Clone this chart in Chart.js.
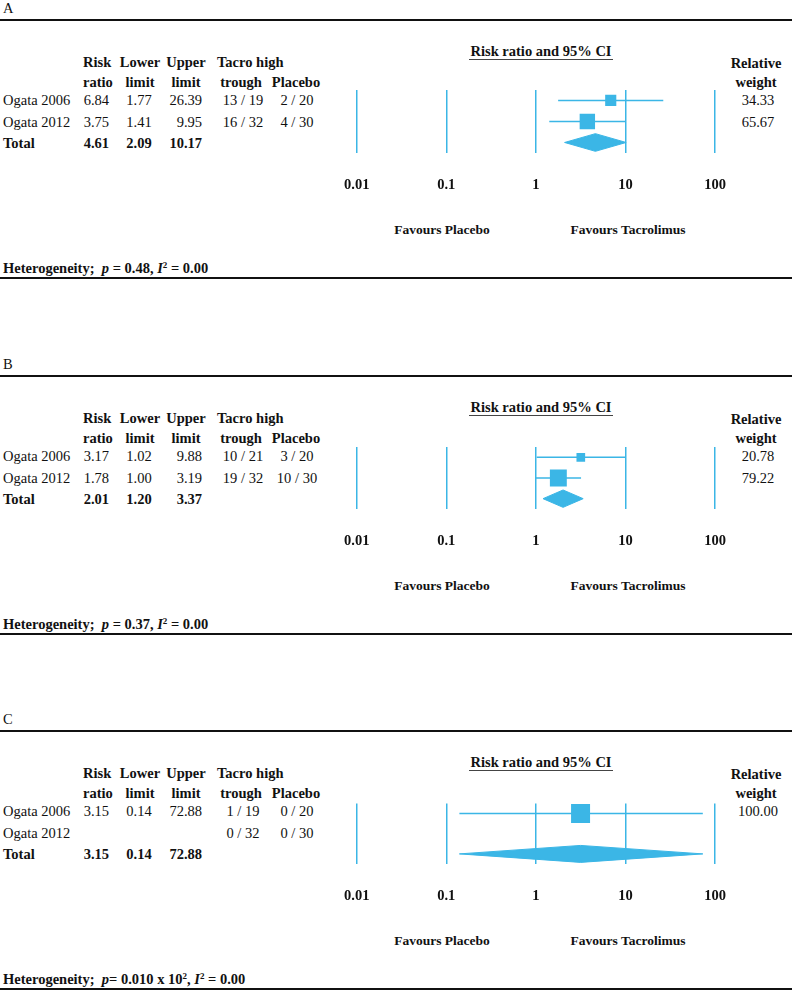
<!DOCTYPE html>
<html>
<head>
<meta charset="utf-8">
<script src="https://cdn.jsdelivr.net/npm/chart.js@4.4.0/dist/chart.umd.min.js"></script>
<style>
  body { margin: 0; background: #fff; }
  #page { position: relative; width: 792px; height: 990px; overflow: hidden;
          font-family: "Liberation Serif", "DejaVu Serif", serif; font-size: 14.5px; color: #111; }
  .t { position: absolute; white-space: nowrap; line-height: 16px; }
  .b { font-weight: bold; }
  .rule { position: absolute; left: 0; width: 792px; height: 2px; background: #111; }
  .uline { position: absolute; height: 1px; background: #444; }
  sup { font-size: 9px; line-height: 0; vertical-align: 5px; }
  canvas { position: absolute; }
</style>
</head>
<body>
<div id="page"></div>
<script>
// ---- data ----
const panelNames = ['A', 'B', 'C'];
const studyNames = ['Ogata 2006', 'Ogata 2012', 'Total'];
const riskRatio  = [[6.84, 3.75], [3.17, 1.78], [3.15, null]];
const lowerLimit = [[1.77, 1.41], [1.02, 1.00], [0.14, null]];
const upperLimit = [[26.39, 9.95], [9.88, 3.19], [72.88, null]];
const tacroHigh  = [['13 / 19', '16 / 32'], ['10 / 21', '19 / 32'], ['1 / 19', '0 / 32']];
const placebo    = [['2 / 20', '4 / 30'], ['3 / 20', '10 / 30'], ['0 / 20', '0 / 30']];
const relWeight  = [[34.33, 65.67], [20.78, 79.22], [100.00, null]];
const totalRR    = [4.61, 2.01, 3.15];
const totalLower = [2.09, 1.20, 0.14];
const totalUpper = [10.17, 3.37, 72.88];
const heteroText = [
  'Heterogeneity;&nbsp; <i>p</i> = 0.48, <i>I</i><sup>2</sup> = 0.00',
  'Heterogeneity;&nbsp; <i>p</i> = 0.37, <i>I</i><sup>2</sup> = 0.00',
  'Heterogeneity;&nbsp; <i>p</i>= 0.010 x 10<sup>2</sup>, <i>I</i><sup>2</sup> = 0.00'
];
const xTicks      = [0.01, 0.1, 1, 10, 100];
const xTickLabels = ['0.01', '0.1', '1', '10', '100'];

// ---- layout ----
const BLUE = '#3bb6e6';
const FONT = '"Liberation Serif", "DejaVu Serif", serif';
const panelTop = [20, 376, 731];
const page = document.getElementById('page');

function txt(html, x, y, align, cls) {
  const d = document.createElement('div');
  d.className = 't' + (cls ? ' ' + cls : '');
  d.innerHTML = html;
  d.style.left = x + 'px';
  d.style.top = (y - 8) + 'px';
  if (align === 'center') d.style.transform = 'translateX(-50%)';
  if (align === 'right') d.style.transform = 'translateX(-100%)';
  page.appendChild(d);
  return d;
}

function box(cls, x, y, w) {
  const d = document.createElement('div');
  d.className = cls;
  d.style.top = y + 'px';
  if (x != null) { d.style.left = x + 'px'; d.style.width = w + 'px'; }
  page.appendChild(d);
}

const fmt = v => v == null ? '' : v.toFixed(2);

function drawTable(p, T) {
  txt(panelNames[p], 3, T - 12, 'left');
  box('rule', null, T - 1);
  box('rule', null, T + 257);

  // column headers
  txt('Risk', 83, T + 42, 'left', 'b');
  txt('ratio', 83, T + 62, 'left', 'b');
  txt('Lower', 140, T + 42, 'center', 'b');
  txt('limit', 140, T + 62, 'center', 'b');
  txt('Upper', 186, T + 42, 'center', 'b');
  txt('limit', 186, T + 62, 'center', 'b');
  txt('Tacro high', 217, T + 42, 'left', 'b');
  txt('trough', 241, T + 62, 'center', 'b');
  txt('Placebo', 296, T + 62, 'center', 'b');
  txt('Relative', 756, T + 43, 'center', 'b');
  txt('weight', 756, T + 62, 'center', 'b');
  txt('Risk ratio and 95% CI', 541, T + 31, 'center', 'b');
  box('uline', 469, T + 39, 144);

  const rowY = [T + 80, T + 101.5, T + 123];
  for (let i = 0; i < 2; i++) {
    txt(studyNames[i], 3, rowY[i], 'left');
    txt(fmt(riskRatio[p][i]), 109, rowY[i], 'right');
    txt(fmt(lowerLimit[p][i]), 139, rowY[i], 'center');
    txt(fmt(upperLimit[p][i]), 202, rowY[i], 'right');
    txt(tacroHigh[p][i], 243, rowY[i], 'center');
    txt(placebo[p][i], 297, rowY[i], 'center');
    txt(fmt(relWeight[p][i]), 758, rowY[i], 'center');
  }
  txt(studyNames[2], 3, rowY[2], 'left', 'b');
  txt(fmt(totalRR[p]), 109, rowY[2], 'right', 'b');
  txt(fmt(totalLower[p]), 139, rowY[2], 'center', 'b');
  txt(fmt(totalUpper[p]), 202, rowY[2], 'right', 'b');

  const f1 = txt('Favours Placebo', 442, T + 210, 'center', 'b');
  const f2 = txt('Favours Tacrolimus', 628, T + 210, 'center', 'b');
  f1.style.fontSize = f2.style.fontSize = '13.5px';
  txt(heteroText[p], 3, T + 248, 'left', 'b');
}

function drawPlot(p, T) {
  const cv = document.createElement('canvas');
  cv.width = 430; cv.height = 124;
  cv.style.left = '320px';
  cv.style.top = (T + 59) + 'px';
  page.appendChild(cv);

  const squares = [], sizes = [], datasets = [];
  riskRatio[p].forEach((v, i) => {
    if (v == null) return;
    squares.push({ x: v, y: i });
    sizes.push(1.9 * Math.sqrt(relWeight[p][i]) / Math.SQRT2);
  });
  datasets.push({
    type: 'scatter', data: squares, pointStyle: 'rect', pointRadius: sizes,
    backgroundColor: BLUE, borderColor: BLUE, borderWidth: 0
  });
  riskRatio[p].forEach((v, i) => {
    if (v == null) return;
    datasets.push({
      type: 'line', data: [{ x: lowerLimit[p][i], y: i }, { x: upperLimit[p][i], y: i }],
      borderColor: BLUE, borderWidth: 1.5, pointRadius: 0, fill: false
    });
  });
  const h = 0.42;
  datasets.push({
    type: 'line',
    data: [
      { x: totalLower[p], y: 2 }, { x: totalRR[p], y: 2 - h },
      { x: totalUpper[p], y: 2 }, { x: totalRR[p], y: 2 + h },
      { x: totalLower[p], y: 2 }
    ],
    borderColor: BLUE, borderWidth: 1, backgroundColor: BLUE,
    pointRadius: 0, fill: 'shape', tension: 0
  });

  new Chart(cv, {
    type: 'scatter',
    data: { datasets },
    options: {
      responsive: false, animation: false, devicePixelRatio: 1,
      layout: { padding: { left: 25, right: 31, top: 10, bottom: 0 } },
      plugins: { legend: { display: false }, tooltip: { enabled: false } },
      scales: {
        x: {
          type: 'logarithmic', min: 0.01, max: 100, position: 'bottom',
          afterBuildTicks: s => { s.ticks = xTicks.map(v => ({ value: v })); },
          afterFit: s => { s.height = 50; },
          grid: { color: BLUE, lineWidth: 1.5, drawTicks: false },
          border: { display: false },
          ticks: {
            padding: 24, color: '#111', maxRotation: 0, autoSkip: false,
            font: { family: FONT, size: 14.5, weight: 'bold' },
            callback: (v, i) => xTickLabels[i]
          }
        },
        y: { type: 'linear', min: -0.5, max: 2.5, reverse: true, display: false }
      }
    }
  });
}

panelNames.forEach((name, p) => {
  drawTable(p, panelTop[p]);
  drawPlot(p, panelTop[p]);
});
</script>
</body>
</html>
